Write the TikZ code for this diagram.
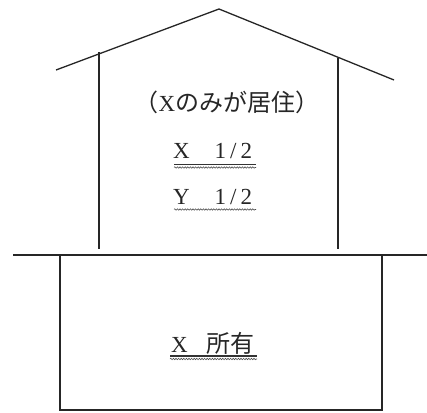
\documentclass[tikz,border=0pt]{standalone}
\usepackage{fontspec}
\setmainfont{Liberation Serif}
\newfontfamily\jp{Noto Sans CJK JP}
\usetikzlibrary{decorations.pathmorphing}
\tikzset{
  ink/.style={draw=black!85, line width=1.3pt},
  lbl/.style={inner sep=0pt, font=\fontsize{23}{27}\selectfont, text=black!85},
  uline/.style={draw=black!80, line width=1.2pt},
  wavy/.style={draw=black!70, line width=0.6pt, decorate,
    decoration={snake, amplitude=0.7pt, segment length=2.6pt}}
}
\newcommand{\hw}[1]{\makebox[13pt]{#1}}
\begin{document}
\begin{tikzpicture}[x=1pt, y=-1pt]
\useasboundingbox (0,0) rectangle (427,412);
% roof
\draw[ink, line join=miter] (56,70) -- (219,9) -- (394,80);
% walls
\draw[ink, line width=1.1pt] (99,52) -- (99,249);
\draw[ink, line width=1.1pt] (338,58) -- (338,249);
% ground line
\draw[ink] (13,255) -- (427,255);
% lower box
\draw[ink, line width=1.1pt] (60,255) -- (60,410) -- (382,410) -- (382,255);
% texts
\node[lbl, anchor=base] (res) at (227,111) {{\jp\fontsize{24}{28}\selectfont （}X{\jp\fontsize{24}{28}\selectfont のみが居住）}};
\node[lbl, anchor=base west] (x12) at (173,158) {X\hspace{24pt}\hw{1}\hw{/}\hw{2}};
\node[lbl, anchor=base west] (y12) at (173,204) {Y\hspace{24pt}\hw{1}\hw{/}\hw{2}};
\node[lbl, anchor=base west] (xown) at (171,352) {X\hspace{19pt}{\jp\fontsize{24}{28}\selectfont 所有}};
% underlines
\draw[uline] (174,164.5) -- (256,164.5);
\draw[wavy] (174,167.5) -- (256,167.5);
\draw[wavy] (174,209.5) -- (256,209.5);
\draw[uline] (170,356) -- (257,356);
\draw[wavy] (170,359) -- (257,359);
\end{tikzpicture}
\end{document}
